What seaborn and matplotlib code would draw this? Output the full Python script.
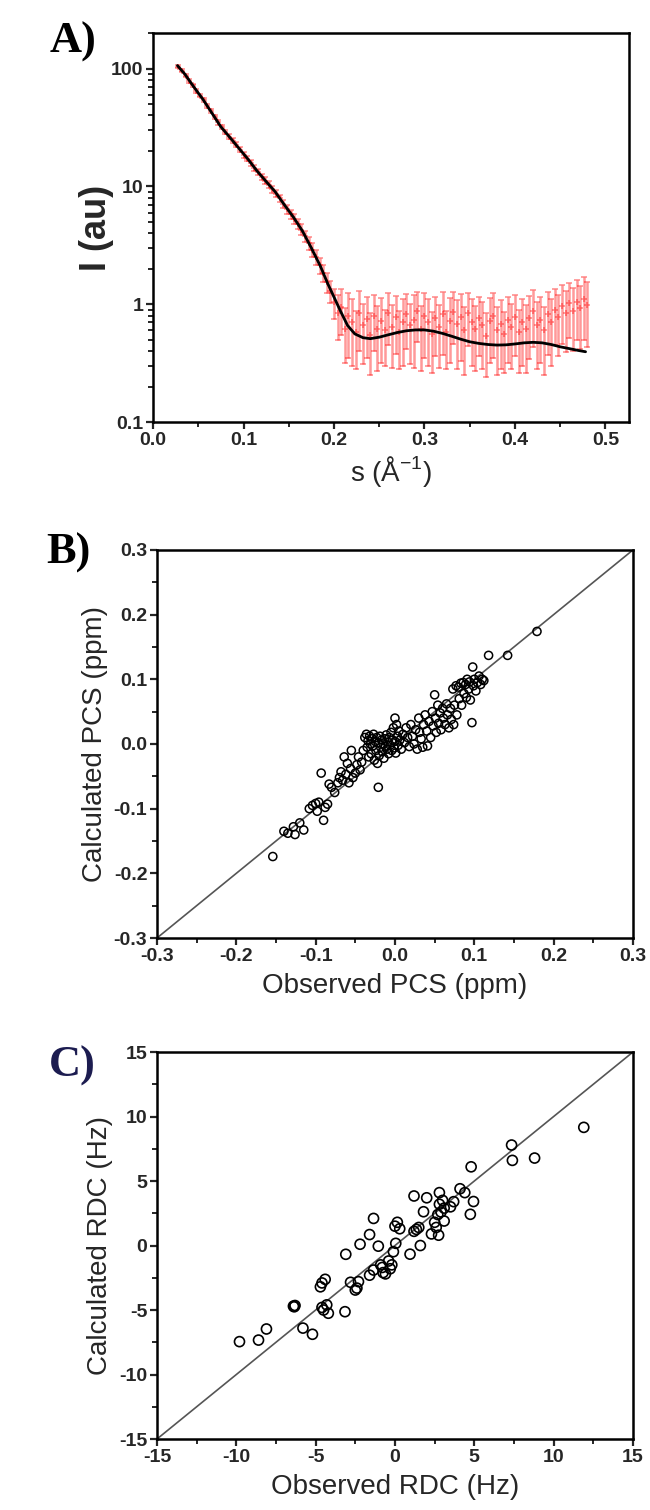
import numpy as np
import matplotlib
matplotlib.use("Agg")
import matplotlib.pyplot as plt
import matplotlib.ticker as mticker
import seaborn as sns

# ---- A) SAXS: observed intensities (red, with errors) and fitted curve (black)
s_obs = [0.028, 0.032, 0.036, 0.040, 0.044, 0.048, 0.052, 0.056, 0.060, 0.064,
         0.068, 0.072, 0.076, 0.080, 0.084, 0.088, 0.092, 0.096, 0.100, 0.104,
         0.108, 0.112, 0.116, 0.120, 0.124, 0.128, 0.132, 0.136, 0.140, 0.144,
         0.148, 0.152, 0.156, 0.160, 0.164, 0.168, 0.172, 0.176, 0.180, 0.184,
         0.188, 0.192, 0.196,
         0.200, 0.204, 0.208, 0.212, 0.216, 0.220, 0.224, 0.228, 0.232, 0.236,
         0.240, 0.244, 0.248, 0.252, 0.256, 0.260, 0.264, 0.268, 0.272, 0.276,
         0.280, 0.284, 0.288, 0.292, 0.296, 0.300, 0.304, 0.308, 0.312, 0.316,
         0.320, 0.324, 0.328, 0.332, 0.336, 0.340, 0.344, 0.348, 0.352, 0.356,
         0.360, 0.364, 0.368, 0.372, 0.376, 0.380, 0.384, 0.388, 0.392, 0.396,
         0.400, 0.404, 0.408, 0.412, 0.416, 0.420, 0.424, 0.428, 0.432, 0.436,
         0.440, 0.444, 0.448, 0.452, 0.456, 0.460, 0.464, 0.468, 0.472, 0.476,
         0.480]
I_obs = [104, 96, 87, 79, 72, 65, 59, 54, 48, 44,
         39, 35, 32, 29, 26.5, 24.5, 22.5, 20.5, 18.5, 17.2,
         15.8, 14.4, 13.2, 12.1, 11.2, 10.3, 9.5, 8.7, 7.9, 7.1,
         6.4, 5.8, 5.3, 4.8, 4.3, 3.8, 3.3, 2.9, 2.5, 2.15,
         1.85, 1.55, 1.3,
         1.05, 0.85, 0.95, 0.62, 0.80, 0.70, 0.58, 0.85, 0.66, 0.75,
         0.55, 0.80, 0.62, 0.72, 0.60, 0.85, 0.64, 0.78, 0.58, 0.70,
         0.82, 0.66, 0.74, 0.88, 0.62, 0.80, 0.70, 0.56, 0.76, 0.64,
         0.82, 0.58, 0.72, 0.86, 0.68, 0.78, 0.60, 0.84, 0.70, 0.62,
         0.76, 0.66, 0.54, 0.72, 0.80, 0.60, 0.68, 0.56, 0.74, 0.64,
         0.78, 0.58, 0.70, 0.62, 0.76, 0.88, 0.66, 0.74, 0.60, 0.82,
         0.70, 0.90, 0.78, 0.96, 0.84, 1.02, 0.88, 1.05, 0.92, 1.10,
         0.98]
I_err = [3, 3, 3, 3, 2.5, 2.5, 2.2, 2, 2, 1.8,
         1.6, 1.5, 1.4, 1.3, 1.2, 1.1, 1.1, 1.0, 1.0, 0.9,
         0.9, 0.8, 0.8, 0.75, 0.7, 0.7, 0.65, 0.6, 0.6, 0.55,
         0.55, 0.5, 0.5, 0.48, 0.45, 0.42, 0.4, 0.38, 0.36, 0.34,
         0.32, 0.3, 0.28,
         0.30, 0.35, 0.40, 0.30, 0.45, 0.40, 0.30, 0.45, 0.35, 0.40,
         0.30, 0.40, 0.35, 0.40, 0.30, 0.40, 0.35, 0.40, 0.30, 0.40,
         0.40, 0.35, 0.45, 0.40, 0.35, 0.45, 0.40, 0.30, 0.40, 0.35,
         0.45, 0.30, 0.40, 0.40, 0.40, 0.45, 0.35, 0.40, 0.40, 0.35,
         0.40, 0.38, 0.30, 0.40, 0.45, 0.35, 0.40, 0.30, 0.42, 0.36,
         0.42, 0.32, 0.40, 0.36, 0.42, 0.45, 0.38, 0.42, 0.35, 0.45,
         0.40, 0.45, 0.42, 0.50, 0.45, 0.50, 0.48, 0.55, 0.50, 0.60,
         0.55]

s_fit = [0.027, 0.035, 0.045, 0.055, 0.065, 0.075, 0.085, 0.095, 0.105, 0.115,
         0.125, 0.135, 0.145, 0.155, 0.165, 0.175, 0.185, 0.193, 0.200, 0.207,
         0.215, 0.223, 0.232, 0.240, 0.250, 0.260, 0.270, 0.280, 0.290, 0.300,
         0.310, 0.320, 0.330, 0.340, 0.350, 0.360, 0.370, 0.380, 0.390, 0.400,
         0.410, 0.420, 0.430, 0.440, 0.450, 0.460, 0.470, 0.478]
I_fit = [106, 90, 70, 55, 42, 32, 26, 21, 17, 13.5,
         11, 9, 7, 5.5, 4.2, 3.0, 2.1, 1.5, 1.15, 0.88,
         0.66, 0.56, 0.52, 0.51, 0.525, 0.55, 0.575, 0.595, 0.605, 0.605,
         0.59, 0.565, 0.535, 0.505, 0.48, 0.465, 0.455, 0.45, 0.452, 0.46,
         0.47, 0.475, 0.47, 0.455, 0.435, 0.42, 0.405, 0.395]

# ---- B) PCS: observed vs calculated (ppm)
pcs_obs = [-0.154, -0.140, -0.135, -0.128, -0.126, -0.120, -0.115, -0.108, -0.104, -0.100,
           -0.098, -0.096, -0.093, -0.090, -0.088, -0.085, -0.083, -0.080, -0.076, -0.072,
           -0.070, -0.068, -0.066, -0.064, -0.062, -0.060, -0.058, -0.056, -0.055, -0.053,
           -0.050, -0.048, -0.046, -0.044, -0.042, -0.040, -0.038, -0.036, -0.035, -0.034,
           -0.033, -0.032, -0.031, -0.030, -0.029, -0.028, -0.027, -0.026, -0.025, -0.024,
           -0.023, -0.022, -0.021, -0.021, -0.020, -0.019, -0.018, -0.017, -0.016, -0.015,
           -0.014, -0.013, -0.012, -0.011, -0.010, -0.009, -0.008, -0.007, -0.006, -0.005,
           -0.004, -0.003, -0.002, -0.001, 0.000, 0.000, 0.001, 0.002, 0.003, 0.004,
           0.005, 0.006, 0.008, 0.010, 0.012, 0.014, 0.016, 0.018, 0.020, 0.022,
           0.024, 0.026, 0.028, 0.030, 0.031, 0.033, 0.035, 0.036, 0.038, 0.040,
           0.041, 0.043, 0.045, 0.047, 0.048, 0.050, 0.051, 0.052, 0.054, 0.055,
           0.057, 0.058, 0.060, 0.061, 0.063, 0.065, 0.066, 0.068, 0.070, 0.071,
           0.073, 0.074, 0.075, 0.077, 0.078, 0.080, 0.081, 0.083, 0.084, 0.086,
           0.087, 0.089, 0.090, 0.091, 0.093, 0.094, 0.095, 0.097, 0.098, 0.099,
           0.100, 0.102, 0.104, 0.106, 0.108, 0.110, 0.112, 0.118, 0.142, 0.179]
pcs_calc = [-0.174, -0.135, -0.138, -0.128, -0.140, -0.122, -0.133, -0.100, -0.095, -0.092,
            -0.104, -0.090, -0.045, -0.118, -0.098, -0.093, -0.062, -0.067, -0.075, -0.060,
            -0.052, -0.043, -0.056, -0.020, -0.047, -0.030, -0.060, -0.038, -0.010, -0.052,
            -0.045, -0.032, -0.020, -0.040, -0.028, -0.010, 0.010, 0.015, -0.005, 0.005,
            -0.020, 0.012, 0.000, -0.015, 0.008, -0.003, 0.015, -0.025, 0.004, -0.010,
            0.010, -0.030, -0.067, 0.002, -0.018, 0.012, -0.005, 0.006, -0.012, 0.000,
            -0.022, 0.008, -0.004, 0.014, -0.008, 0.003, -0.015, 0.010, -0.002, 0.018,
            -0.010, 0.006, 0.025, -0.006, 0.040, 0.004, -0.014, 0.030, 0.012, -0.002,
            0.020, 0.006, -0.008, 0.015, 0.002, 0.025, 0.010, -0.004, 0.030, 0.012,
            0.000, 0.022, -0.008, 0.040, 0.018, 0.008, -0.005, 0.030, 0.045, 0.020,
            -0.003, 0.035, 0.010, 0.050, 0.028, 0.076, 0.040, 0.018, 0.060, 0.032,
            0.048, 0.022, 0.055, 0.040, 0.030, 0.062, 0.045, 0.025, 0.055, 0.038,
            0.085, 0.030, 0.060, 0.090, 0.045, 0.088, 0.070, 0.094, 0.060, 0.095,
            0.078, 0.092, 0.072, 0.100, 0.085, 0.096, 0.068, 0.033, 0.119, 0.090,
            0.100, 0.082, 0.095, 0.105, 0.092, 0.100, 0.098, 0.137, 0.137, 0.174]

# ---- C) RDC: observed vs calculated (Hz)
rdc_obs = [-9.8, -8.6, -8.1, -6.4, -6.3, -6.35, -5.8, -5.2, -4.7, -4.4,
           -4.6, -4.6, -4.2, -4.3, -4.5, -3.15, -3.1, -2.8, -2.5, -2.3,
           -2.4, -2.2, -1.6, -1.35, -1.6, -1.35, -1.05, -0.9, -0.75, -0.8,
           -0.6, -0.4, -0.3, -0.2, -0.1, 0.05, 0.0, 0.3, 0.15, 0.95,
           1.2, 1.2, 1.35, 1.5, 1.6, 1.8, 2.0, 2.3, 2.5, 2.6,
           2.7, 2.8, 2.75, 2.8, 2.9, 3.0, 3.1, 3.1, 3.5, 3.7,
           4.1, 4.4, 4.8, 4.75, 4.95, 7.35, 7.4, 8.8, 11.9]
rdc_calc = [-7.45, -7.33, -6.47, -4.7, -4.65, -4.75, -6.4, -6.88, -3.2, -2.62,
            -2.9, -4.8, -5.25, -4.6, -5.0, -5.13, -0.68, -2.85, -3.45, -2.8,
            -3.3, 0.1, 0.85, 2.1, -2.3, -1.9, -0.05, -1.5, -2.1, -1.7,
            -2.2, -1.2, -1.8, -1.5, -0.48, 0.17, 1.5, 1.3, 1.8, -0.67,
            3.84, 1.1, 1.25, 1.4, 0.0, 2.62, 3.7, 0.9, 1.8, 1.4,
            2.4, 3.2, 0.8, 4.1, 2.6, 3.5, 1.9, 2.9, 3.0, 3.4,
            4.4, 4.1, 6.1, 2.42, 3.41, 7.79, 6.6, 6.78, 9.16]

sns.set_style("ticks")
plt.rcParams["font.family"] = ["Liberation Sans", "DejaVu Sans"]
plt.rcParams["axes.unicode_minus"] = False
plt.rcParams["mathtext.fontset"] = "custom"
plt.rcParams["mathtext.rm"] = "Liberation Sans"

fig = plt.figure(figsize=(6.5, 15.1), dpi=100)
axA = fig.add_axes([0.2354, 0.7205, 0.7323, 0.2576])
axB = fig.add_axes([0.2415, 0.3788, 0.7323, 0.2570])
axC = fig.add_axes([0.2415, 0.0470, 0.7323, 0.2563])


def style_axes(ax):
    for sp in ax.spines.values():
        sp.set_visible(True)
        sp.set_linewidth(1.8)
        sp.set_color("black")
    ax.tick_params(which="major", direction="out", length=5, width=1.6,
                   labelsize=14, pad=2, top=False, right=False)
    ax.tick_params(which="minor", direction="out", length=3.5, width=1.4,
                   top=False, right=False)
    for lab in ax.get_xticklabels() + ax.get_yticklabels():
        lab.set_fontweight("bold")


# Panel A
axA.set_yscale("log")
axA.errorbar(s_obs, I_obs, yerr=I_err, fmt="+", ms=5, mew=1.3, color="red",
             ecolor="red", elinewidth=1.8, capsize=2.5, capthick=1.2,
             alpha=0.4, zorder=2)
sns.lineplot(x=s_fit, y=I_fit, color="black", linewidth=2.0, ax=axA, zorder=3)
axA.set_xlim(0, 0.526)
axA.set_ylim(0.1, 200)
axA.xaxis.set_major_locator(mticker.MultipleLocator(0.1))
axA.xaxis.set_minor_locator(mticker.MultipleLocator(0.05))
axA.xaxis.set_major_formatter(mticker.FormatStrFormatter("%.1f"))
axA.yaxis.set_major_locator(mticker.FixedLocator([0.1, 1, 10, 100]))
axA.yaxis.set_major_formatter(mticker.FixedFormatter(["0.1", "1", "10", "100"]))
axA.yaxis.set_minor_locator(mticker.LogLocator(base=10, subs=np.arange(2, 10)))
axA.yaxis.set_minor_formatter(mticker.NullFormatter())
axA.set_xlabel("s (Å$^{\\mathrm{-1}}$)", fontsize=20, labelpad=4)
axA.set_ylabel("I (au)", fontsize=26, fontweight="bold", labelpad=-2)
style_axes(axA)

# Panel B
sns.scatterplot(x=pcs_obs, y=pcs_calc, ax=axB, marker="o", s=34,
                facecolor="none", edgecolor="black", linewidth=1.1, zorder=3)
axB.axline((0, 0), slope=1, color="#555555", linewidth=1.2, zorder=2)
axB.set_xlim(-0.3, 0.3)
axB.set_ylim(-0.3, 0.3)
for axis in (axB.xaxis, axB.yaxis):
    axis.set_major_locator(mticker.MultipleLocator(0.1))
    axis.set_minor_locator(mticker.MultipleLocator(0.05))
    axis.set_major_formatter(mticker.FormatStrFormatter("%.1f"))
axB.set_xlabel("Observed PCS (ppm)", fontsize=20, labelpad=6)
axB.set_ylabel("Calculated PCS (ppm)", fontsize=20, labelpad=4)
style_axes(axB)

# Panel C
sns.scatterplot(x=rdc_obs, y=rdc_calc, ax=axC, marker="o", s=52,
                facecolor="none", edgecolor="black", linewidth=1.2, zorder=3)
axC.axline((0, 0), slope=1, color="#555555", linewidth=1.2, zorder=2)
axC.set_xlim(-15, 15)
axC.set_ylim(-15, 15)
for axis in (axC.xaxis, axC.yaxis):
    axis.set_major_locator(mticker.MultipleLocator(5))
    axis.set_minor_locator(mticker.MultipleLocator(2.5))
    axis.set_major_formatter(mticker.FormatStrFormatter("%d"))
axC.set_xlabel("Observed RDC (Hz)", fontsize=20, labelpad=6)
axC.set_ylabel("Calculated RDC (Hz)", fontsize=20, labelpad=4)
style_axes(axC)

# panel letters
serif = ["Liberation Serif", "DejaVu Serif"]
fig.text(73 / 650, 1 - 42 / 1510, "A)", fontsize=32, fontweight="bold",
         family=serif, ha="center", va="center", color="black")
fig.text(68 / 650, 1 - 553 / 1510, "B)", fontsize=32, fontweight="bold",
         family=serif, ha="center", va="center", color="black")
fig.text(72 / 650, 1 - 1066 / 1510, "C)", fontsize=32, fontweight="bold",
         family=serif, ha="center", va="center", color="#1c1c50")

fig.savefig("out.png", dpi=100)
